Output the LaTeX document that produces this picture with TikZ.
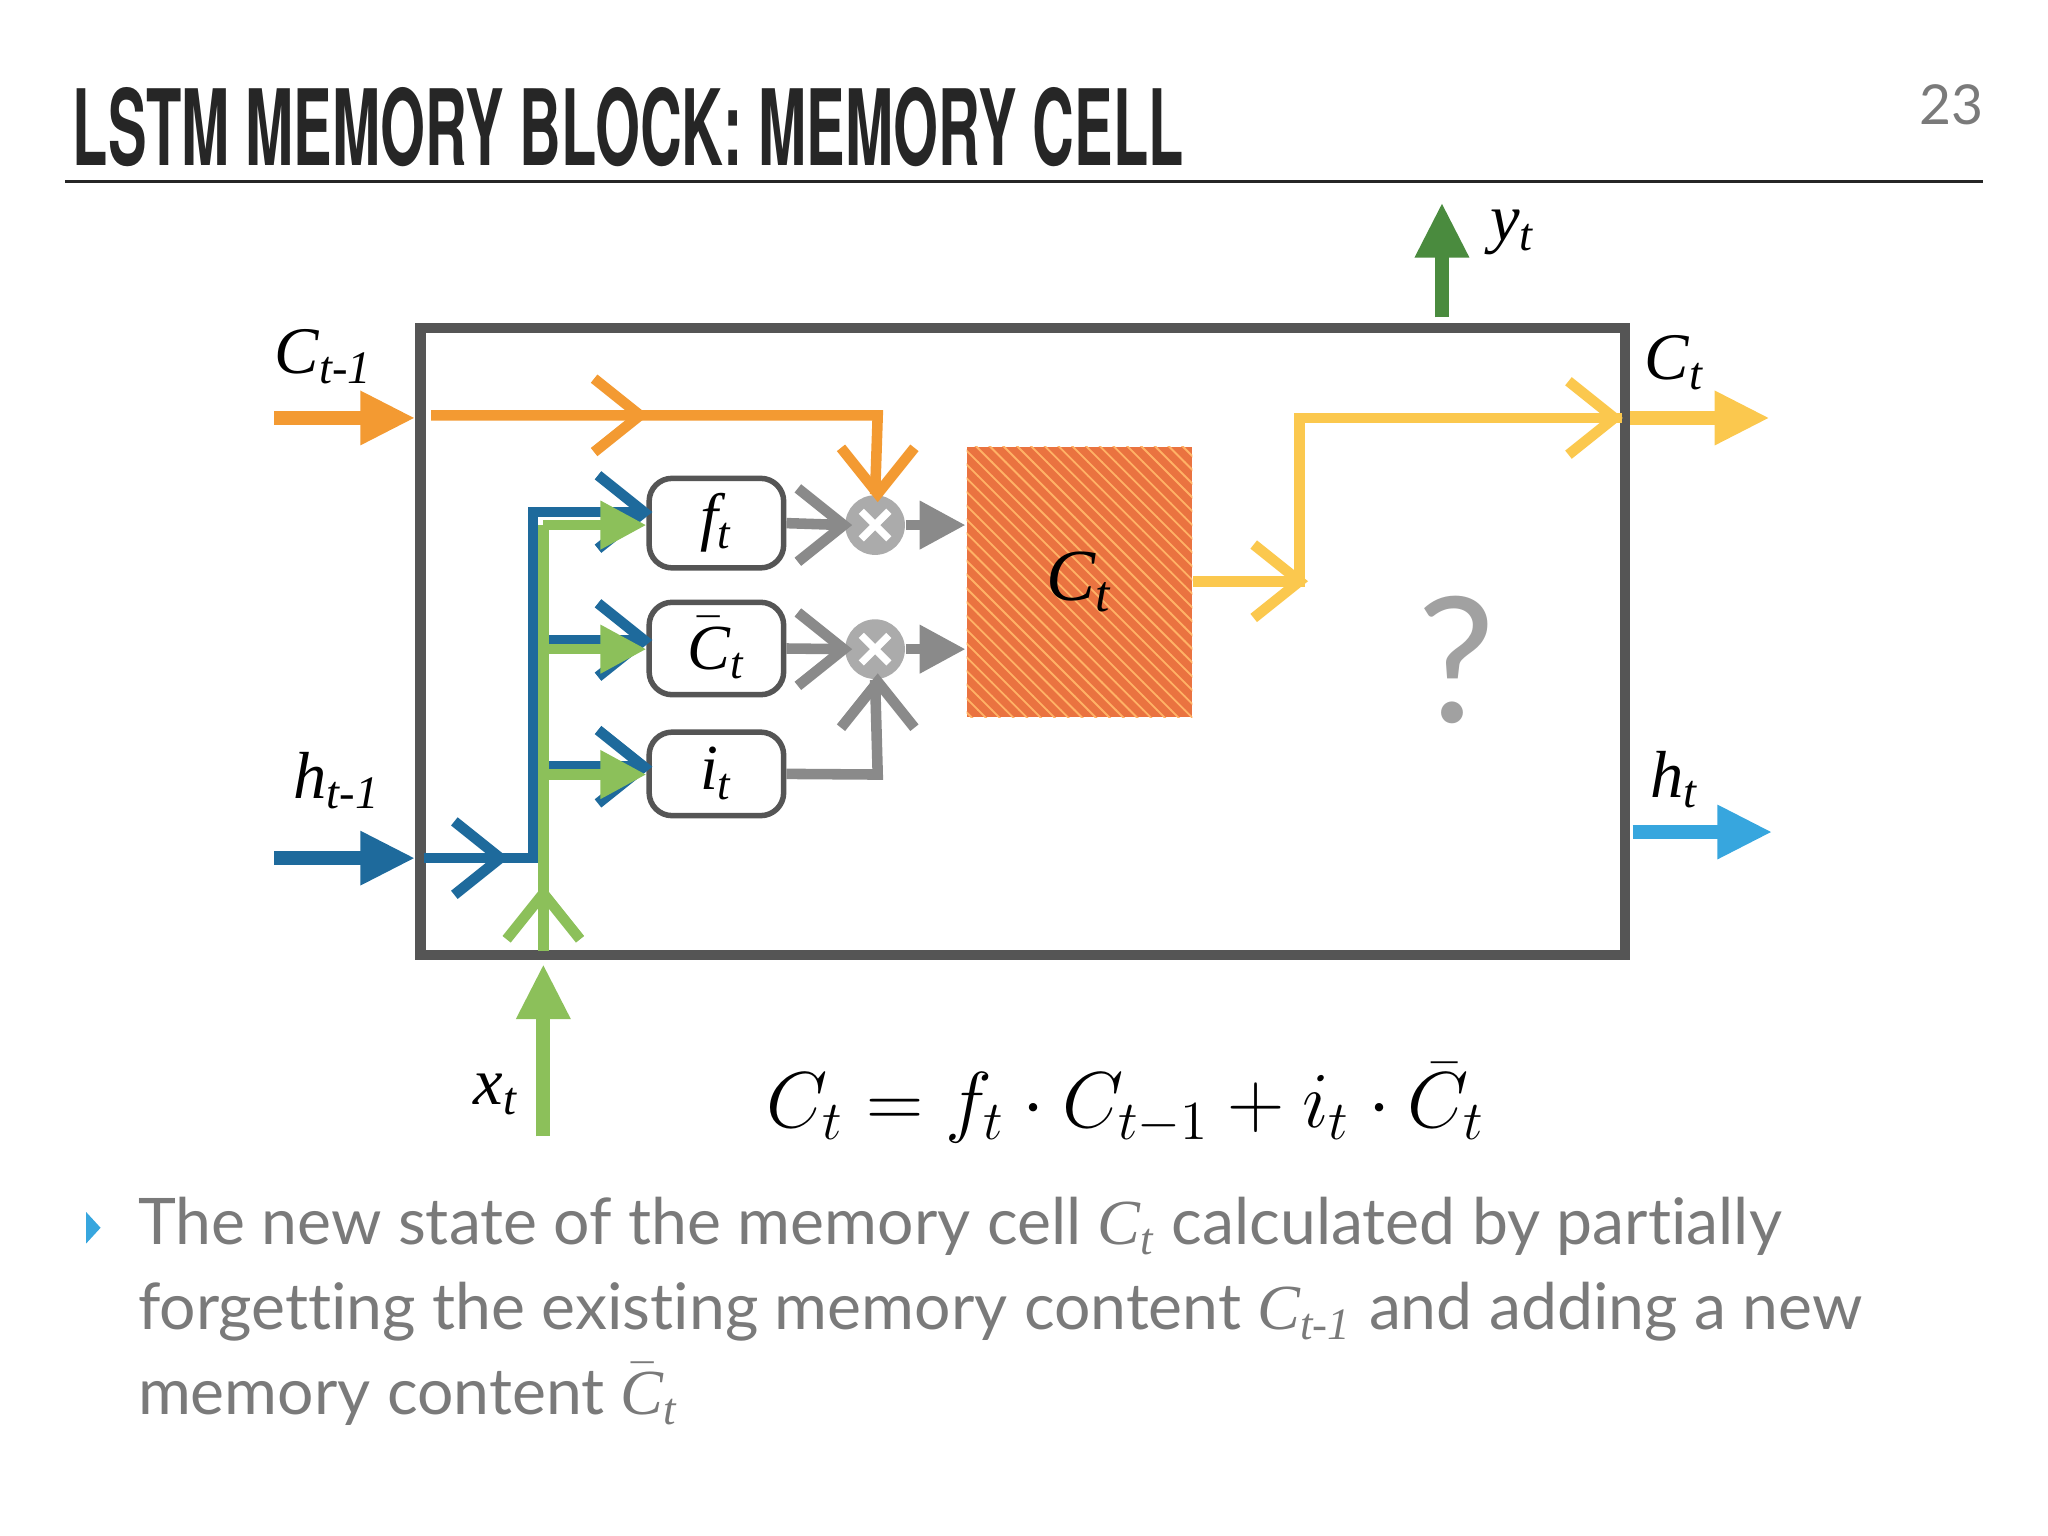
\documentclass[tikz,border=0pt]{standalone}
\usepackage{fontspec}
\setmainfont{Liberation Serif}
\newfontfamily\lato{Lato}[Ligatures=NoCommon]
\newfontfamily\heros{TeX Gyre Heros}
\usepackage{graphicx}
\usetikzlibrary{arrows.meta,patterns}
\definecolor{cor}{HTML}{F39A32}
\definecolor{cye}{HTML}{FBC84E}
\definecolor{cdb}{HTML}{1E6A9C}
\definecolor{clb}{HTML}{37A6DE}
\definecolor{cgr}{HTML}{8CC05A}
\definecolor{cdg}{HTML}{4A8B3E}
\definecolor{cga}{HTML}{8A8A8A}
\definecolor{ccl}{HTML}{ABABAB}
\definecolor{cfr}{HTML}{555555}
\definecolor{csq}{HTML}{EA7340}
\definecolor{ctx}{HTML}{7A7A7A}
\tikzset{
  big/.style={line width=3pt,-{Triangle[length=12pt,width=11pt]}},
  thin/.style={line width=2.3pt},
  thinh/.style={line width=2.3pt,-{Triangle[length=10pt,width=10pt]}},
  chev/.pic={\draw[line width=2.3pt,pic actions] (-10pt,-8pt)--(0,0)--(-10pt,8pt);},
  gate/.style={draw=cfr,line width=1.2pt,rounded corners=5pt,fill=white,minimum width=103*0.1mm,minimum height=63*0.1mm,font=\fontsize{14}{14}\selectfont\itshape},
  lab/.style={font=\fontsize{14.5}{14.5}\selectfont\itshape},
  mul/.style={circle,fill=ccl,minimum size=13pt,inner sep=0pt},
}
\begin{document}
\begin{tikzpicture}[x=0.1mm,y=-0.1mm]
\useasboundingbox (0,0) rectangle (1568,1176);
% title
\node[anchor=south west,inner sep=0pt,text=black!85] (title) at (55,128) {\resizebox{242pt}{17pt}{\heros\bfseries LSTM MEMORY BLOCK: MEMORY CELL}};
\node[text=ctx,font=\lato\fontsize{12}{12}\selectfont] (pg) at (1494,80) {23};
\draw[line width=0.7pt,black!85] (50,139) coordinate (r1) -- (1518,139) coordinate (r2);
% frame
\draw[cfr,line width=2.3pt] (322,251) rectangle (1244,731);
% orange square
\node[fill=csq,minimum width=173*0.1mm,minimum height=207*0.1mm,inner sep=0pt] (sq) at (826.5,445.5) {};
\fill[pattern=north west lines,pattern color=orange!60] (740,342) rectangle (913,549);
\node[lab,font=\fontsize{16}{16}\selectfont\itshape] at (sq) {C\textsubscript{t}};
% gates
\node[gate] (f) at (548.5,400.5) {f\textsubscript{t}};
\node[gate] (c) at (548.5,496.5) {$\bar{\textit{C}}$\textsubscript{t}};
\node[gate] (i) at (548.5,592.5) {i\textsubscript{t}};
\node[mul] (m1) at (670,402) {};
\node[mul] (m2) at (670,497) {};
\foreach \m in {m1,m2}{\draw[white,line width=1.6pt] ([shift={(-3pt,3pt)}]\m.center)--([shift={(3pt,-3pt)}]\m.center) ([shift={(3pt,3pt)}]\m.center)--([shift={(-3pt,-3pt)}]\m.center);}
% gate to mul
\draw[cga,thin] (f.east) -- (m1.west); \pic[cga] at (646,402) {chev};
\draw[cga,thin] (c.east) -- (m2.west); \pic[cga] at (646,497) {chev};
\draw[cga,thinh] (m1.east) -- (sq.west|-m1);
\draw[cga,thinh] (m2.east) -- (sq.west|-m2);
\draw[cga,thin] (i.east) -- (672,593) -- (m2.south); \pic[cga,rotate=90] at (672,522) {chev};
% C_{t-1}
\coordinate (cin) at (210,320);
\draw[cor,big] (cin) -- (318,320);
\node[lab] (lc) at (248,273) {C\textsubscript{t-1}};
\draw[cor,thin] (330,318) -- (672,318) -- (m1.north); \pic[cor] at (490,318) {chev}; \pic[cor,rotate=-90] at (672,378) {chev};
% output C_t
\draw[cye,thin] (sq.east|-0,445) -- (995,445) -- (995,320) -- (1242,320);
\pic[cye] at (995,445) {chev}; \pic[cye] at (1236,320) {chev};
\coordinate (cout) at (1355,320);
\draw[cye,big] (1248,320) -- (cout);
\node[lab] (lct) at (1282,278) {C\textsubscript{t}};
% y_t
\coordinate (yo) at (1104,155);
\draw[cdg,big] (1104,243) -- (yo);
\node[lab] (ly) at (1158,178) {y\textsubscript{t}};
% h_t
\coordinate (ho) at (1357,637);
\draw[clb,big] (1250,637) -- (ho);
\node[lab] (lht) at (1282,597) {h\textsubscript{t}};
% h_{t-1}
\coordinate (hin) at (210,657);
\draw[cdb,big] (hin) -- (318,657);
\node[lab] (lh) at (258,598) {h\textsubscript{t-1}};
\draw[cdb,thin] (325,657) -- (408,657) -- (408,392) -- (492,392);
\draw[cdb,thin] (408,490) -- (492,490) (408,587) -- (492,587);
\pic[cdb] at (383,657) {chev};
\foreach \y in {392,490,587}{\pic[cdb] at (493,\y) {chev};}
% x_t
\coordinate (xin) at (416,870);
\draw[cgr,big] (xin) -- (416,738);
\node[lab] (lx) at (380,838) {x\textsubscript{t}};
\draw[cgr,thin] (416,728) -- (416,402);
\draw[cgr,thinh] (416,402) -- (f.west|-0,402);
\draw[cgr,thinh] (416,497) -- (c.west|-0,497);
\draw[cgr,thinh] (416,593) -- (i.west|-0,593);
\pic[cgr,rotate=90] at (416,684) {chev};
% question
\node[text=cga!80,font=\lato\fontsize{38}{38}\selectfont] (q) at (1115,505) {?};
% equation
\node (eq) at (862,845) {\fontsize{17}{17}\selectfont $C_{t} = f_{t}\cdot C_{t-1} + i_{t}\cdot \bar{C}_{t}$};
% bullet
\fill[clb] (66,928) -- (77,940) -- (66,952) -- cycle;
\begin{scope}[every node/.style={anchor=base west,inner sep=0pt,text=ctx,font=\lato\fontsize{14}{14}\selectfont}]
\node (t1) at (105,953) {The new state of the memory cell {\rmfamily\itshape C\textsubscript{t}} calculated by partially};
\node (t2) at (105,1018) {forgetting the existing memory content {\rmfamily\itshape C\textsubscript{t-1}} and adding a new};
\node (t3) at (105,1083) {memory content {\rmfamily\itshape$\bar{\textit{C}}$\textsubscript{t}}};
\end{scope}
\end{tikzpicture}
\end{document}
